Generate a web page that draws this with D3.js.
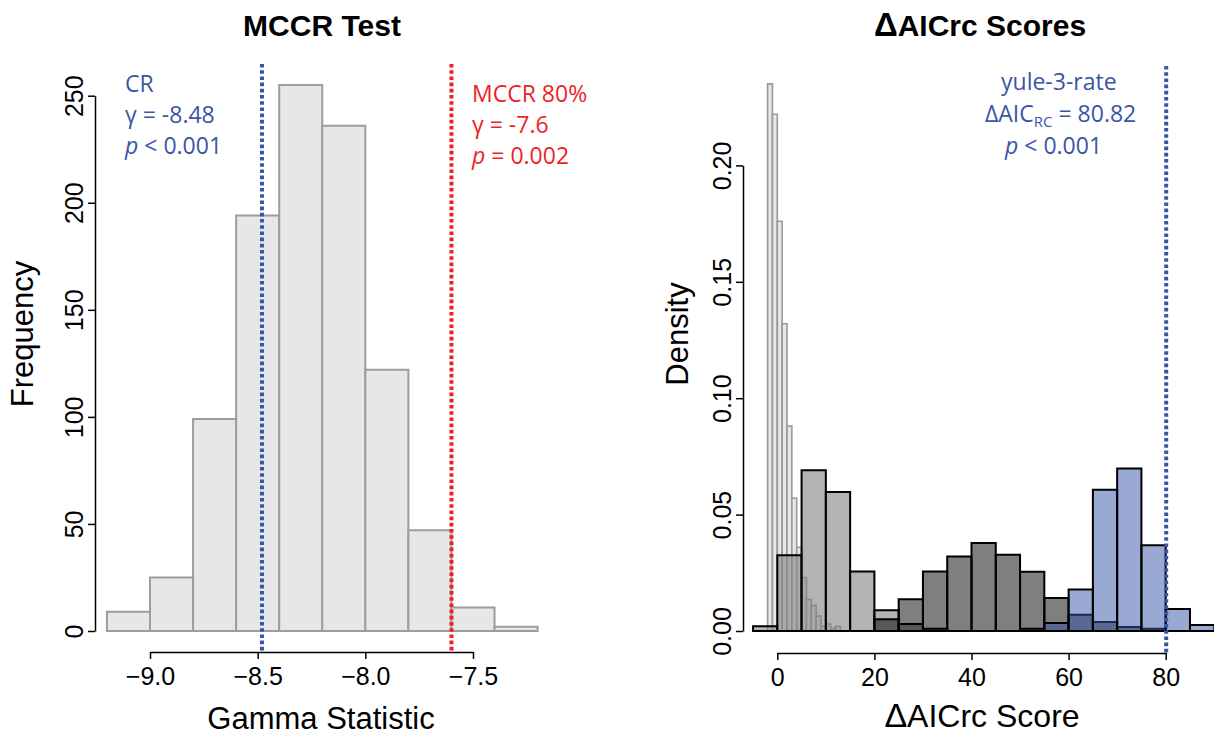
<!DOCTYPE html>
<html>
<head>
<meta charset="utf-8">
<script src="https://cdn.jsdelivr.net/npm/d3@7"></script>
<style>
  body { margin: 0; background: #fff; }
  svg { display: block; }
  .axis path, .axis line { stroke: #000; stroke-width: 1.5; }
  .axis .tick text { font-family: "Liberation Sans", Arial, sans-serif; font-size: 25px; fill: #000; }
  .ttl { font-family: "Liberation Sans", Arial, sans-serif; font-size: 30px; font-weight: bold; }
  .lab { font-family: "Liberation Sans", Arial, sans-serif; font-size: 31px; }
  .note { font-family: "Open Sans", sans-serif; font-size: 23px; }
</style>
</head>
<body>
<svg id="chart" width="1214" height="736"></svg>
<script>
// left panel: null distribution of gamma (MCCR test)
const gammaBreaks = [-9.2, -9.0, -8.8, -8.6, -8.4, -8.2, -8.0, -7.8, -7.6, -7.4, -7.2];
const gammaCounts = [9, 25, 99, 194, 255, 236, 122, 47, 11, 2];
const gammaTicks = [-9.0, -8.5, -8.0, -7.5];
const freqTicks = [0, 50, 100, 150, 200, 250];
const crGamma = -8.48;
const mccrGamma = -7.6;

// right panel: delta AIC densities
// fine histogram (bin width 1, starting at -2)
const fineBreaks = [-2, -1, 0, 1, 2, 3, 4, 5, 6, 7, 8, 9, 10, 11, 12, 13];
const fineDensity = [0.235, 0.222, 0.176, 0.132, 0.088, 0.057, 0.036, 0.023, 0.0135, 0.011, 0.0064, 0.002, 0.003, 0.001, 0.002];
// coarse histograms (bin width 5, -5 .. 90)
const coarseBreaks = [-5, 0, 5, 10, 15, 20, 25, 30, 35, 40, 45, 50, 55, 60, 65, 70, 75, 80, 85, 90];
const midDensity  = [0.002, 0.0325, 0.069, 0.0597, 0.0256, 0.0089, 0.003, 0.001, 0, 0, 0, 0.001, 0, 0, 0, 0, 0, 0, 0];
const darkDensity = [0, 0, 0, 0, 0, 0.005, 0.0136, 0.0256, 0.032, 0.0378, 0.0328, 0.0254, 0.0142, 0.007, 0.0039, 0.0017, 0.001, 0, 0];
const blueDensity = [0, 0, 0, 0, 0, 0, 0, 0, 0, 0, 0, 0, 0.0034, 0.0178, 0.0607, 0.0698, 0.0368, 0.0095, 0.0026];
const aicTicks = [0, 20, 40, 60, 80];
const densTicks = [0, 0.05, 0.10, 0.15, 0.20];
const yuleAIC = 80.1;

const BLUE = "#3a55a6";
const RED = "#ee1f26";

const svg = d3.select("#chart");

// ---------- left panel ----------
const xL = d3.scaleLinear().domain([-9, -7.5]).range([150, 473]);
const yL = d3.scaleLinear().domain([0, 250]).range([631, 95.7]);

function barPath(x, y, x0, x1, v) {
  return `M${x(x0)},${y(0)}V${y(v)}H${x(x1)}V${y(0)}Z`;
}

svg.append("g").selectAll("path")
  .data(gammaCounts)
  .enter().append("path")
  .attr("d", (d, i) => barPath(xL, yL, gammaBreaks[i], gammaBreaks[i + 1], d))
  .attr("fill", "#e6e7e8")
  .attr("stroke", "#9d9d9d")
  .attr("stroke-width", 2);

svg.append("g").attr("class", "axis")
  .attr("transform", "translate(0,652)")
  .call(d3.axisBottom(xL).tickValues(gammaTicks).tickSize(7).tickSizeOuter(0).tickPadding(8)
    .tickFormat(d3.format(".1f")));

svg.append("g").attr("class", "axis")
  .attr("transform", "translate(95,0)")
  .call(d3.axisLeft(yL).tickValues(freqTicks).tickSize(7).tickSizeOuter(0))
  .call(rotateLabels);

function rotateLabels(g) {
  g.selectAll(".tick text")
    .attr("x", 0).attr("dy", 0)
    .attr("text-anchor", "middle")
    .attr("transform", "translate(-12,0) rotate(-90)");
}

// reference lines
[[crGamma, BLUE], [mccrGamma, RED]].forEach(([v, c]) => {
  svg.append("line")
    .attr("x1", xL(v)).attr("x2", xL(v))
    .attr("y1", 64).attr("y2", 653)
    .attr("stroke", c).attr("stroke-width", 4)
    .attr("stroke-dasharray", "3.6,2.6");
});

svg.append("text").attr("class", "ttl")
  .attr("x", 322).attr("y", 36).attr("text-anchor", "middle")
  .text("MCCR Test");

svg.append("text").attr("class", "lab")
  .attr("x", 321).attr("y", 729).attr("text-anchor", "middle")
  .text("Gamma Statistic");

svg.append("text").attr("class", "lab")
  .attr("transform", "translate(33,334) rotate(-90)")
  .attr("text-anchor", "middle")
  .text("Frequency");

function noteBlock(x, y0, color, lines) {
  lines.forEach((parts, i) => {
    const t = svg.append("text").attr("class", "note")
      .attr("x", x).attr("y", y0 + i * 31).attr("fill", color);
    parts.forEach(p => {
      const s = t.append("tspan").text(p.t);
      if (p.it) s.attr("font-style", "italic");
      if (p.sub) s.attr("font-size", "15px").attr("dy", 5);
      if (p.up) s.attr("dy", -5);
    });
  });
}

noteBlock(125, 92, BLUE, [
  [{ t: "CR" }],
  [{ t: "γ = -8.48" }],
  [{ t: "p", it: true }, { t: " < 0.001" }]
]);

noteBlock(472, 102, RED, [
  [{ t: "MCCR 80%" }],
  [{ t: "γ = -7.6" }],
  [{ t: "p", it: true }, { t: " = 0.002" }]
]);

// ---------- right panel ----------
const xR = d3.scaleLinear().domain([0, 80]).range([777.3, 1165.7]);
const yR = d3.scaleLinear().domain([0, 0.2]).range([631, 165.4]);

svg.append("g").selectAll("path")
  .data(fineDensity)
  .enter().append("path")
  .attr("d", (d, i) => barPath(xR, yR, fineBreaks[i], fineBreaks[i + 1], d))
  .attr("fill", "#e6e7e8")
  .attr("stroke", "#999")
  .attr("stroke-width", 1.6);

const coarse = [
  [midDensity, "rgba(128,128,128,0.6)"],
  [darkDensity, "rgba(0,0,0,0.5)"],
  [blueDensity, "rgba(53,83,169,0.5)"]
];
coarse.forEach(([vals, fill]) => {
  svg.append("g").selectAll("path")
    .data(vals)
    .enter().append("path")
    .attr("d", (d, i) => barPath(xR, yR, coarseBreaks[i], coarseBreaks[i + 1], d))
    .attr("fill", fill)
    .attr("stroke", "#000")
    .attr("stroke-width", 2);
});

svg.append("g").attr("class", "axis")
  .attr("transform", "translate(0,653)")
  .call(d3.axisBottom(xR).tickValues(aicTicks).tickSize(7).tickSizeOuter(0).tickPadding(8));

svg.append("g").attr("class", "axis")
  .attr("transform", "translate(743,0)")
  .call(d3.axisLeft(yR).tickValues(densTicks).tickSize(7).tickSizeOuter(0).tickFormat(d3.format(".2f")))
  .call(rotateLabels);

svg.append("line")
  .attr("x1", xR(yuleAIC)).attr("x2", xR(yuleAIC))
  .attr("y1", 66).attr("y2", 653)
  .attr("stroke", BLUE).attr("stroke-width", 4)
  .attr("stroke-dasharray", "3.6,2.6");

const rTitle = svg.append("text").attr("class", "ttl")
  .attr("x", 980).attr("y", 36).attr("text-anchor", "middle");
rTitle.append("tspan").attr("font-size", "33px").text("Δ");
rTitle.append("tspan").text("AICrc Scores");

const rLab = svg.append("text").attr("class", "lab")
  .attr("x", 982).attr("y", 727).attr("text-anchor", "middle");
rLab.append("tspan").attr("font-size", "34px").text("Δ");
rLab.append("tspan").attr("font-size", "32px").text("AICrc Score");

svg.append("text").attr("class", "lab")
  .attr("transform", "translate(688,334) rotate(-90)")
  .attr("text-anchor", "middle")
  .text("Density");

noteBlock(1001, 90, BLUE, [[{ t: "yule-3-rate" }]]);
noteBlock(985, 122, BLUE, [[{ t: "ΔAIC" }, { t: "RC", sub: true }, { t: " = 80.82", up: true }]]);
noteBlock(1005, 154, BLUE, [[{ t: "p", it: true }, { t: " < 0.001" }]]);
</script>
</body>
</html>
